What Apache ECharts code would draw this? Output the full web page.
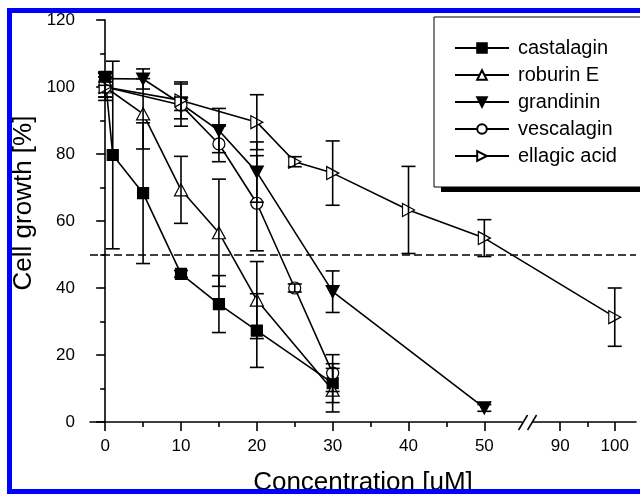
<!DOCTYPE html>
<html>
<head>
<meta charset="utf-8">
<script src="https://cdn.jsdelivr.net/npm/echarts@6/dist/echarts.min.js"></script>
<style>
  html, body { margin: 0; padding: 0; background: #fff; }
  #chart { width: 640px; height: 494px; }
</style>
</head>
<body>
<div id="chart"></div>
<script>
// concentration [uM], cell growth [%] and error (+/-) for each compound
var castX = [0, 1, 5, 10, 15, 20, 30];
var castY = [103, 79.7, 68.3, 44.2, 35.2, 27.3, 11.6];
var castE = [1.5, 28, 21, 1, 8.5, 11, 5.8];

var robX = [0, 5, 10, 15, 20, 30];
var robY = [100, 92, 69.3, 56.5, 36.4, 9.5];
var robE = [4, 10.5, 10, 16, 11.5, 6.5];

var granX = [0, 5, 10, 15, 20, 30, 50];
var granY = [102.5, 102.4, 95, 87, 74.6, 38.9, 4.2];
var granE = [2, 3, 2, 6.6, 9, 6.2, 1];

var vesX = [0, 10, 15, 20, 25, 30];
var vesY = [100, 94.6, 83, 65.3, 40, 14.6];
var vesE = [3, 6.3, 5.3, 14.2, 1.2, 5.5];

var ellX = [0, 10, 20, 25, 30, 40, 50, 100];
var ellY = [100, 96, 89.5, 77.7, 74.3, 63.3, 54.9, 31.3];
var ellE = [3, 5.5, 8.2, 1.5, 9.6, 13, 5.5, 8.7];

var majorTicks = [0, 10, 20, 30, 40, 50, 90, 100];
var minorTicks = [5, 15, 25, 35, 45, 95];
var halfLine = 50;

// axis break 50 -> 90: the part after the break is drawn compressed
function brk(c) { return c <= 50 ? c : 60 + (c - 90) * 0.72; }
function unbrk(v) { return v <= 50.5 ? v : 90 + (v - 60) / 0.72; }

var font = 'Liberation Sans, Arial, sans-serif';

function pts(xs, ys) {
	return xs.map(function (x, i) { return [brk(x), ys[i]]; });
}
function errs(xs, ys, es) {
	return xs.map(function (x, i) { return [brk(x), ys[i] - es[i], ys[i] + es[i]]; });
}

function errorBar(params, api) {
	var x = api.value(0);
	var top = api.coord([x, api.value(2)]);
	var bot = api.coord([x, api.value(1)]);
	var w = 7;
	var st = { stroke: '#000', lineWidth: 1.6 };
	return {
		type : 'group',
		children : [
			{ type : 'line', shape : { x1 : top[0], y1 : top[1], x2 : bot[0], y2 : bot[1] }, style : st },
			{ type : 'line', shape : { x1 : top[0] - w, y1 : top[1], x2 : top[0] + w, y2 : top[1] }, style : st },
			{ type : 'line', shape : { x1 : bot[0] - w, y1 : bot[1], x2 : bot[0] + w, y2 : bot[1] }, style : st }
		]
	};
}

function lineSeries(name, data, symbol, size, fill, rotate) {
	return {
		name : name,
		type : 'line',
		data : data,
		symbol : symbol,
		symbolSize : size,
		symbolRotate : rotate || 0,
		showAllSymbol : true,
		lineStyle : { color : '#000', width : 1.6 },
		itemStyle : { color : fill, borderColor : '#000', borderWidth : 1.2 },
		emphasis : { disabled : true },
		z : 3
	};
}

function errSeries(name, data) {
	return {
		name : name,
		type : 'custom',
		data : data,
		renderItem : errorBar,
		encode : { x : 0, y : [1, 2] },
		silent : true,
		z : 4
	};
}

var chart = echarts.init(document.getElementById('chart'));

var option = {
	animation : false,
	textStyle : { fontFamily : font },
	grid : { left : 90, right : 4, top : 20, bottom : 72, outerBoundsMode : 'none', containLabel : false },
	legend : {
		data : ['castalagin', 'roburin E', 'grandinin', 'vescalagin', 'ellagic acid'],
		orient : 'vertical',
		left : 434,
		top : 17,
		padding : [21, 80, 21, 20],
		itemWidth : 54,
		itemHeight : 12,
		itemGap : 7,
		backgroundColor : '#fff',
		borderColor : '#000',
		borderWidth : 1,
		textStyle : { color : '#000', fontSize : 20, fontFamily : font, lineHeight : 20, padding : [0, 0, 0, 4] },
		selectedMode : false,
		z : 10
	},
	xAxis : [{
		type : 'value',
		min : -2,
		max : 70,
		name : 'Concentration [uM]',
		nameLocation : 'middle',
		nameGap : 48,
		nameTextStyle : { fontSize : 26, color : '#000', fontFamily : font },
		axisLine : { lineStyle : { color : '#000', width : 1.6 } },
		axisTick : { length : 9, lineStyle : { color : '#000', width : 1.6 }, customValues : majorTicks.map(brk) },
		axisLabel : {
			fontSize : 17, color : '#000', margin : 16,
			customValues : majorTicks.map(brk),
			formatter : function (v) { return Math.round(unbrk(v)); }
		},
		splitLine : { show : false }
	}, {
		type : 'value',
		min : -2,
		max : 70,
		position : 'bottom',
		axisLine : { show : false },
		axisTick : { length : 5, lineStyle : { color : '#000', width : 1.6 }, customValues : minorTicks.map(brk) },
		axisLabel : { show : false },
		splitLine : { show : false }
	}],
	yAxis : {
		type : 'value',
		min : 0,
		max : 120,
		interval : 20,
		axisLine : { show : true, lineStyle : { color : '#000', width : 1.6 } },
		axisTick : { show : true, length : 9, lineStyle : { color : '#000', width : 1.6 } },
		minorTick : { show : true, splitNumber : 2, length : 5, lineStyle : { color : '#000', width : 1.6 } },
		axisLabel : { fontSize : 17, color : '#000', margin : 15 },
		splitLine : { show : false }
	},
	series : [
		lineSeries('castalagin', pts(castX, castY), 'rect', 11, '#000'),
		lineSeries('roburin E', pts(robX, robY), 'triangle', [13, 12], '#fff'),
		lineSeries('grandinin', pts(granX, granY), 'triangle', [13, 12], '#000', 180),
		lineSeries('vescalagin', pts(vesX, vesY), 'circle', 12, '#fff'),
		lineSeries('ellagic acid', pts(ellX, ellY), 'triangle', [13, 12], '#fff', -90),
		errSeries('castalagin err', errs(castX, castY, castE)),
		errSeries('roburin E err', errs(robX, robY, robE)),
		errSeries('grandinin err', errs(granX, granY, granE)),
		errSeries('vescalagin err', errs(vesX, vesY, vesE)),
		errSeries('ellagic acid err', errs(ellX, ellY, ellE)),
		{
			name : 'half',
			type : 'line',
			data : [],
			markLine : {
				silent : true,
				symbol : ['none', 'none'],
				label : { show : false },
				lineStyle : { color : '#000', type : [8, 4], width : 1.5 },
				data : [{ yAxis : halfLine }]
			}
		}
	],
	graphic : [{
		id : 'frame',
		type : 'rect',
		shape : { x : 9.5, y : 10.5, width : 660, height : 481 },
		style : { fill : 'none', stroke : '#0000ff', lineWidth : 5 },
		silent : true,
		z : 100
	}, {
		id : 'legendShadow',
		type : 'rect',
		shape : { x : 441, y : 24, width : 260, height : 168 },
		style : { fill : '#000' },
		silent : true,
		z : 5
	}, {
		id : 'yName',
		type : 'text',
		x : 24,
		y : 203,
		rotation : Math.PI / 2,
		style : { text : 'Cell growth [%]', fill : '#000', font : '26px ' + font, align : 'center', verticalAlign : 'middle' },
		silent : true
	}]
};

chart.setOption(option);

// axis break mark "//" placed at the break on the x axis
var p = chart.convertToPixel({ xAxisIndex : 0, yAxisIndex : 0 }, [55.7, 0]);
chart.setOption({
	graphic : [{
		id : 'breakGap',
		type : 'rect',
		shape : { x : p[0] - 5, y : p[1] - 2, width : 10, height : 4 },
		style : { fill : '#fff' },
		silent : true,
		z : 50
	}, {
		id : 'breakA',
		type : 'line',
		shape : { x1 : p[0] - 9, y1 : p[1] + 8, x2 : p[0], y2 : p[1] - 7 },
		style : { stroke : '#000', lineWidth : 1.5 },
		silent : true,
		z : 51
	}, {
		id : 'breakB',
		type : 'line',
		shape : { x1 : p[0], y1 : p[1] + 8, x2 : p[0] + 9, y2 : p[1] - 7 },
		style : { stroke : '#000', lineWidth : 1.5 },
		silent : true,
		z : 51
	}]
});
</script>
</body>
</html>
